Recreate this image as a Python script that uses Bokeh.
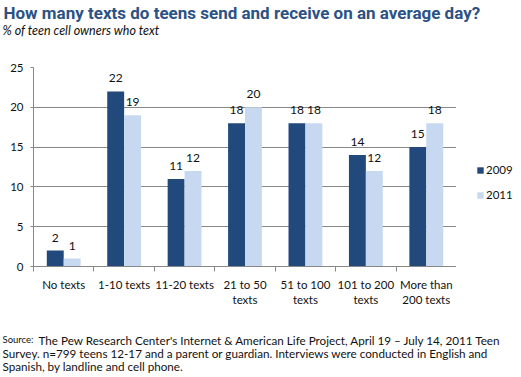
from bokeh.plotting import figure
from bokeh.layouts import column, row
from bokeh.models import (ColumnDataSource, Range1d, FixedTicker, LabelSet,
                          Legend, LegendItem)
from bokeh.core.properties import value
from bokeh.embed import file_html
from bokeh.resources import INLINE

# ---- data ----
categories = ["No texts", "1-10 texts", "11-20 texts", "21 to 50\ntexts",
              "51 to 100\ntexts", "101 to 200\ntexts", "More than\n200 texts"]
series_names = ["2009", "2011"]
values_2009 = [2, 22, 11, 18, 18, 14, 15]
values_2011 = [1, 19, 12, 20, 18, 12, 18]
y_ticks = [0, 5, 10, 15, 20, 25]

title_text = "How many texts do teens send and receive on an average day?"
subtitle_text = "% of teen cell owners who text"
source_head = "Source:"
source_lines = ["The Pew Research Center's Internet & American Life Project, April 19 \u2013 July 14, 2011 Teen",
                "Survey. n=799 teens 12-17 and a parent or guardian. Interviews were conducted in English and",
                "Spanish, by landline and cell phone."]

# ---- style ----
DARK = "#22497c"
LIGHT = "#c6d9f1"
GRID = "#888888"
TITLE_C = "#2c5285"
FONT = "Lato"
TXT = "#111111"

W = 521
H_HEAD, H_MAIN, H_FOOT = 60, 260, 57
W_LEG = 65
W_MAIN = W - W_LEG


def blank_fig(w, h):
    f = figure(width=w, height=h, output_backend="svg", toolbar_location=None,
               x_range=Range1d(0, w), y_range=Range1d(h, 0),
               x_axis_location=None, y_axis_location=None,
               min_border_left=0, min_border_right=0, min_border_top=0, min_border_bottom=0)
    f.grid.visible = False
    f.outline_line_color = None
    f.background_fill_color = "white"
    f.border_fill_color = "white"
    return f


def put(f, text, x, y, size, color=TXT, style="normal", font=FONT):
    f.text(x=[x], y=[y], text=[text], text_font=value(font), text_font_size=value(size),
           text_color=color, text_font_style=style, text_baseline="middle", text_align="left")


# ---- header ----
head = blank_fig(W, H_HEAD)
put(head, title_text, 3, 12, "17px", color=TITLE_C, style="bold", font="Roboto")
put(head, subtitle_text, 2, 30, "12.5px", style="italic")

# ---- main chart ----
idx = list(range(len(categories)))
bar_w = 0.28
src = ColumnDataSource(dict(
    x09=[i + 0.36 for i in idx], x11=[i + 0.64 for i in idx],
    y09=values_2009, y11=values_2011,
    t09=[str(v) for v in values_2009], t11=[str(v) for v in values_2011],
))

p = figure(width=W_MAIN, height=H_MAIN, output_backend="svg", toolbar_location=None,
           x_range=Range1d(0, len(categories)), y_range=Range1d(0, 25),
           min_border_left=33, min_border_right=0, min_border_top=7, min_border_bottom=54)
p.outline_line_color = None
p.background_fill_color = "white"
p.border_fill_color = "white"

p.vbar(x="x09", top="y09", width=bar_w, source=src, fill_color=DARK, line_color=None)
p.vbar(x="x11", top="y11", width=bar_w, source=src, fill_color=LIGHT, line_color=None)

for col_x, col_y, col_t in (("x09", "y09", "t09"), ("x11", "y11", "t11")):
    p.add_layout(LabelSet(x=col_x, y=col_y, text=col_t, source=src,
                          text_align="center", text_baseline="alphabetic", y_offset=9,
                          text_font=value(FONT), text_font_size=value("12px"),
                          text_color=TXT))

xa = p.xaxis[0]
xa.ticker = FixedTicker(ticks=[i + 0.5 for i in idx], minor_ticks=list(range(len(categories) + 1)))
xa.major_label_overrides = {i + 0.5: c for i, c in zip(idx, categories)}
xa.major_tick_line_color = None
xa.major_tick_out = 0
xa.major_tick_in = 0
xa.minor_tick_line_color = GRID
xa.minor_tick_out = 5
xa.minor_tick_in = 0
xa.axis_line_color = GRID
xa.major_label_standoff = 6
xa.major_label_text_font = FONT
xa.major_label_text_font_size = "11.5px"
xa.major_label_text_color = TXT

ya = p.yaxis[0]
ya.ticker = FixedTicker(ticks=y_ticks)
ya.minor_tick_line_color = None
ya.major_tick_line_color = GRID
ya.major_tick_out = 3
ya.major_tick_in = 0
ya.axis_line_color = GRID
ya.major_label_standoff = 7
ya.major_label_text_font = FONT
ya.major_label_text_font_size = "11.5px"
ya.major_label_text_color = TXT

p.xgrid.grid_line_color = None
p.ygrid.grid_line_color = GRID
p.ygrid.ticker = FixedTicker(ticks=y_ticks)

# ---- legend panel (proxy renderers lie outside the visible range) ----
leg = blank_fig(W_LEG, H_MAIN)
l09 = leg.vbar(x=[-100], top=[-100], width=1, fill_color=DARK, line_color=None)
l11 = leg.vbar(x=[-100], top=[-100], width=1, fill_color=LIGHT, line_color=None)
legend = Legend(items=[LegendItem(label=series_names[0], renderers=[l09]),
                       LegendItem(label=series_names[1], renderers=[l11])],
                location=(20, 65), orientation="vertical",
                glyph_width=8, glyph_height=8, label_height=12, spacing=12,
                label_standoff=2, padding=0, margin=0,
                border_line_color=None, background_fill_alpha=0,
                label_text_font=FONT, label_text_font_size="11.5px",
                label_text_color=TXT, label_text_baseline="middle")
leg.add_layout(legend, "center")

# ---- footer ----
foot = blank_fig(W, H_FOOT)
put(foot, source_head, 2, 19, "9.5px")
put(foot, source_lines[0], 38, 19, "11.7px")
put(foot, source_lines[1], 2, 32, "11.7px")
put(foot, source_lines[2], 2, 45, "11.7px")

layout = column(head, row(p, leg, spacing=0), foot, spacing=0)
open("out.html", "w").write(file_html(layout, INLINE))
